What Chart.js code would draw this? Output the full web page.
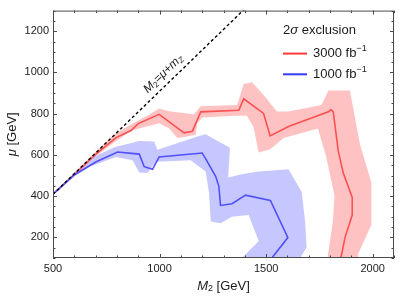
<!DOCTYPE html>
<html>
<head>
<meta charset="utf-8">
<script src="https://cdn.jsdelivr.net/npm/chart.js@4.4.1/dist/chart.umd.min.js"></script>
<style>
  html, body { margin: 0; padding: 0; background: #fff; }
  #wrap { width: 399px; height: 299px; }
</style>
</head>
<body>
<div id="wrap"><canvas id="chart"></canvas></div>
<script>
// axis ranges and tick labels
const xRange = [500, 2100];
const yRange = [100, 1300];
const xTicks = [500, 1000, 1500, 2000];
const yTicks = [200, 400, 600, 800, 1000, 1200];

// kinematic limit M2 = mu + mZ
const mZ = 91.19;
const diagM2 = [500, 1400];

// central exclusion curves [M2, mu]
const red3000 = [[500,410],[600,505],[700,603],[796,684],[866,718],[900,752],[998,797],[1115,707],[1154,715],[1193,809],[1372,817],[1395,872],[1488,801],[1519,692],[1605,738],[1792,809],[1804,820],[1815,809],[1838,621],[1862,512],[1904,394],[1904,308],[1870,199],[1851,100]];
const blue1000 = [[500,410],[601,504],[703,567],[803,614],[905,604],[928,543],[967,530],[998,590],[1200,609],[1216,582],[1263,496],[1278,449],[1286,355],[1340,363],[1403,405],[1520,379],[1602,199],[1527,100]];

// uncertainty bands: outer edge, then inner edge back to start
const redBandOuter = [[500,412],[600,514],[700,616],[790,702],[870,750],[950,795],[998,825],[1045,812],[1138,800],[1161,796],[1193,836],[1364,842],[1395,944],[1434,952],[1496,881],[1550,811],[1605,811],[1760,842],[1792,913],[1893,913],[1940,653],[1994,465],[1994,261],[1932,121],[1932,100]];
const redBandInner = [[1788,100],[1813,277],[1821,402],[1782,590],[1743,728],[1582,682],[1519,627],[1465,612],[1441,736],[1410,790],[1356,790],[1200,782],[1177,752],[1169,698],[1123,688],[1084,682],[1045,728],[998,754],[873,720],[796,668],[700,594],[600,497],[500,405]];
const blueBandOuter = [[500,412],[600,512],[671,582],[788,637],[905,668],[975,665],[990,625],[1185,692],[1216,700],[1330,635],[1322,490],[1380,505],[1465,520],[1605,530],[1667,420],[1683,277],[1690,152],[1660,100]];
const blueBandInner = [[1387,100],[1465,183],[1418,308],[1340,300],[1286,269],[1240,277],[1232,418],[1216,520],[1146,574],[983,567],[943,512],[905,515],[873,574],[796,590],[671,543],[600,495],[500,405]];

const FONT = "'Liberation Sans', Arial, sans-serif";
const RED_LINE = '#ff5050';
const BLUE_LINE = '#5050ff';
const RED_BAND = '#ffc2c2';
const BLUE_BAND = 'rgba(185, 185, 255, 0.8)';

const pts = arr => arr.map(([x, y]) => ({ x, y }));

function richText(ctx, parts, x, y, align) {
    let w = 0;
    parts.forEach(p => { ctx.font = p.font; p.w = ctx.measureText(p.t).width; w += p.w; });
    let cx = align === 'center' ? x - w / 2 : x;
    parts.forEach(p => {
        ctx.font = p.font;
        ctx.fillText(p.t, cx, y + (p.dy || 0));
        cx += p.w;
    });
}

// fill the band datasets as closed polygons, using the points Chart.js placed
const bandFill = {
    id: 'bandFill',
    beforeDatasetsDraw(chart) {
        const { ctx, chartArea: a } = chart;
        ctx.save();
        ctx.beginPath();
        ctx.rect(a.left, a.top, a.width, a.height);
        ctx.clip();
        chart.data.datasets.forEach((ds, i) => {
            if (!ds.bandColor) return;
            const els = chart.getDatasetMeta(i).data;
            ctx.beginPath();
            els.forEach((p, k) => (k ? ctx.lineTo(p.x, p.y) : ctx.moveTo(p.x, p.y)));
            ctx.closePath();
            ctx.fillStyle = ds.bandColor;
            ctx.fill();
        });
        ctx.restore();
    }
};

// frame, inward ticks, titles, legend and the diagonal label
const decorations = {
    id: 'decorations',
    afterDatasetsDraw(chart) {
        const { ctx, chartArea: a, scales: { x, y } } = chart;
        ctx.save();
        ctx.strokeStyle = '#4a4a4a';
        ctx.lineWidth = 1;
        ctx.strokeRect(a.left + 0.5, a.top + 0.5, a.width - 1, a.height - 1);

        ctx.beginPath();
        for (let v = xRange[0]; v <= xRange[1]; v += 100) {
            const px = Math.round(x.getPixelForValue(v)) + 0.5;
            const len = v % 500 === 0 ? 4 : 2.5;
            ctx.moveTo(px, a.bottom); ctx.lineTo(px, a.bottom - len);
            ctx.moveTo(px, a.top); ctx.lineTo(px, a.top + len);
        }
        for (let v = yRange[0]; v <= yRange[1]; v += 50) {
            const py = Math.round(y.getPixelForValue(v)) + 0.5;
            const len = v % 200 === 0 ? 4 : 2.5;
            ctx.moveTo(a.left, py); ctx.lineTo(a.left + len, py);
            ctx.moveTo(a.right, py); ctx.lineTo(a.right - len, py);
        }
        ctx.stroke();

        ctx.fillStyle = '#1a1a1a';
        ctx.textBaseline = 'middle';

        // axis titles
        const cx = (a.left + a.right) / 2;
        richText(ctx, [
            { t: 'M', font: `italic 13px ${FONT}` },
            { t: '2', font: `9px ${FONT}`, dy: 3 },
            { t: ' [GeV]', font: `13px ${FONT}` }
        ], cx, 286, 'center');

        ctx.save();
        ctx.translate(12, (a.top + a.bottom) / 2);
        ctx.rotate(-Math.PI / 2);
        richText(ctx, [
            { t: 'μ', font: `italic 13px ${FONT}` },
            { t: ' [GeV]', font: `13px ${FONT}` }
        ], 0, 0, 'center');
        ctx.restore();

        // diagonal label
        const x0 = x.getPixelForValue(diagM2[0]), y0 = y.getPixelForValue(diagM2[0] - mZ);
        const x1 = x.getPixelForValue(diagM2[1]), y1 = y.getPixelForValue(diagM2[1] - mZ);
        const ang = Math.atan2(y1 - y0, x1 - x0);
        const lx = x.getPixelForValue(1050), ly = y.getPixelForValue(1050 - mZ);
        ctx.save();
        ctx.translate(lx + 10 * Math.sin(ang), ly - 10 * Math.cos(ang));
        ctx.rotate(ang);
        richText(ctx, [
            { t: 'M', font: `italic 12px ${FONT}` },
            { t: '2', font: `8px ${FONT}`, dy: 3 },
            { t: '=μ+m', font: `italic 12px ${FONT}` },
            { t: 'Z', font: `italic 8px ${FONT}`, dy: 3 }
        ], 0, 0, 'center');
        ctx.restore();

        // legend
        const lx0 = a.right - 111;
        richText(ctx, [
            { t: '2', font: `13px ${FONT}` },
            { t: 'σ', font: `italic 13px ${FONT}` },
            { t: ' exclusion', font: `13px ${FONT}` }
        ], lx0, a.top + 20, 'left');
        [['#ff3838', '3000', 43], ['#3838ff', '1000', 63.7]].forEach(([col, lum, yy]) => {
            ctx.strokeStyle = col;
            ctx.lineWidth = 2;
            ctx.beginPath();
            ctx.moveTo(lx0, a.top + yy); ctx.lineTo(lx0 + 24, a.top + yy);
            ctx.stroke();
            richText(ctx, [
                { t: lum + ' fb', font: `13px ${FONT}` },
                { t: '−1', font: `9px ${FONT}`, dy: -5 }
            ], lx0 + 30, a.top + yy, 'left');
        });
        ctx.restore();
    }
};

new Chart(document.getElementById('chart'), {
    type: 'scatter',
    data: {
        datasets: [
            {
                data: pts(diagM2.map(m => [m, m - mZ])),
                showLine: true, borderColor: '#000', borderWidth: 1.4, borderDash: [3, 2.5],
                pointRadius: 0, order: 1
            },
            {
                data: pts(blue1000),
                showLine: true, borderColor: BLUE_LINE, borderWidth: 1.6,
                pointRadius: 0, order: 2
            },
            {
                data: pts(red3000),
                showLine: true, borderColor: RED_LINE, borderWidth: 1.6,
                pointRadius: 0, order: 3
            },
            {
                data: pts([...redBandOuter, ...redBandInner]),
                bandColor: RED_BAND, showLine: false, pointRadius: 0, order: 5
            },
            {
                data: pts([...blueBandOuter, ...blueBandInner]),
                bandColor: BLUE_BAND, showLine: false, pointRadius: 0, order: 4
            }
        ]
    },
    options: {
        responsive: true,
        maintainAspectRatio: false,
        animation: false,
        layout: { padding: { left: 0, right: 5, top: 3, bottom: 0 } },
        plugins: {
            legend: { display: false },
            tooltip: { enabled: false }
        },
        scales: {
            x: {
                type: 'linear', min: xRange[0], max: xRange[1],
                grid: { display: false, drawTicks: false },
                border: { display: false },
                afterBuildTicks: s => { s.ticks = xTicks.map(v => ({ value: v })); },
                afterFit: s => { s.height = 41; },
                ticks: { padding: 4, maxRotation: 0, color: '#222', font: { family: FONT, size: 11 }, callback: v => String(v) }
            },
            y: {
                type: 'linear', min: yRange[0], max: yRange[1],
                grid: { display: false, drawTicks: false },
                border: { display: false },
                afterBuildTicks: s => { s.ticks = yTicks.map(v => ({ value: v })); },
                afterFit: s => { s.width = 53; },
                ticks: { padding: 4, color: '#222', font: { family: FONT, size: 11 }, callback: v => String(v) }
            }
        }
    },
    plugins: [bandFill, decorations]
});
</script>
</body>
</html>
